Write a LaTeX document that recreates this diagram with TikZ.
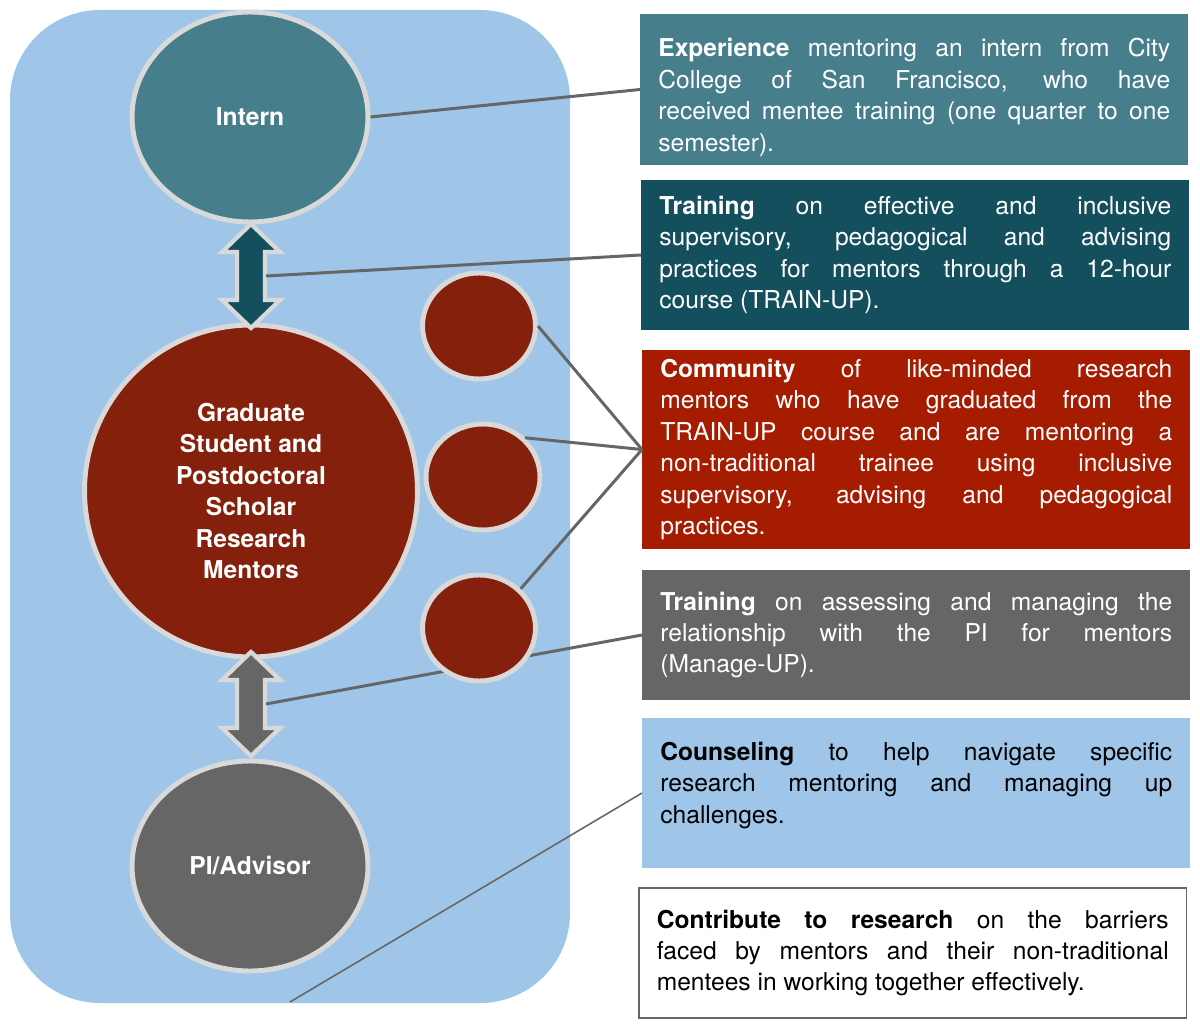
\documentclass[tikz,border=0pt]{standalone}
\usepackage{fontspec}
\setmainfont{TeX Gyre Heros}
\usetikzlibrary{shapes.geometric, calc}
\definecolor{mpSky}{HTML}{9FC5E8}
\definecolor{mpTeal}{HTML}{467F8B}
\definecolor{mpDeep}{HTML}{134F5C}
\definecolor{mpRust}{HTML}{85200C}
\definecolor{mpRed}{HTML}{A61C00}
\definecolor{mpGrey}{HTML}{666666}
\definecolor{mpRim}{HTML}{D9D9D9}
\hyphenpenalty=10000
\exhyphenpenalty=10000
\tikzset{
  bodytxt/.style  = {font=\fontsize{14}{17.9}\selectfont},
  bubble/.style   = {ellipse, draw=mpRim, line width=2.8pt, text=white,
                     align=center, inner sep=0pt,
                     font=\fontsize{14}{17.9}\selectfont\bfseries},
  infobox/.style  = {rectangle, anchor=west, text width=10.24cm,
                     inner xsep=0.36cm, inner ysep=0pt, align=justify,
                     minimum height=#1, bodytxt},
  dblarrow/.style = {draw=mpRim, line width=2.4pt, line join=miter},
  link/.style     = {mpGrey, line width=1.7pt},
  thinlink/.style = {mpGrey, line width=0.9pt},
}

\begin{document}
\begin{tikzpicture}[x=0.02cm,y=-0.02cm]
  \useasboundingbox (0,0) rectangle (1200,1030);
  % panel behind the people
  \fill[mpSky, rounded corners=1.8cm] (10,10) rectangle (570,1003);
  \coordinate (panelfoot) at (290,1002);

  % info boxes
  \node[infobox=3.02cm, fill=mpTeal, text=white] (exper) at (640,89.5)
    {\textbf{Experience} mentoring an intern from City\linebreak
     College of San Francisco, who have\linebreak
     received mentee training (one quarter to one\linebreak
     semester).\par\kern-0.32cm};
  \node[infobox=3.0cm, fill=mpDeep, text=white] (trainup) at (641,255)
    {\textbf{Training} on effective and inclusive\linebreak
     supervisory, pedagogical and advising\linebreak
     practices for mentors through a 12-hour\linebreak
     course (TRAIN-UP).};
  \node[infobox=3.98cm, fill=mpRed, text=white] (commun) at (642,449.5)
    {\textbf{Community} of like-minded research\linebreak
     mentors who have graduated from the\linebreak
     TRAIN-UP course and are mentoring a\linebreak
     non-traditional trainee using inclusive\linebreak
     supervisory, advising and pedagogical\linebreak
     practices.};
  \node[infobox=2.6cm, fill=mpGrey, text=white] (manage) at (642,635)
    {\textbf{Training} on assessing and managing the\linebreak
     relationship with the PI for mentors\linebreak
     (Manage-UP).};
  \node[infobox=3.0cm, fill=mpSky] (counsel) at (642,793)
    {\textbf{Counseling} to help navigate specific\linebreak
     research mentoring and managing up\linebreak
     challenges.\par\kern0.3cm};
  \node[infobox=2.6cm, fill=white, draw=mpGrey, line width=0.9pt] (research) at (638,953)
    {\textbf{Contribute to research} on the barriers\linebreak
     faced by mentors and their non-traditional\linebreak
     mentees in working together effectively.};

  % people
  \node[bubble, fill=mpTeal, minimum width=4.72cm, minimum height=4.2cm] (intern) at (250,117) {Intern};
  \node[bubble, fill=mpRust, minimum width=6.66cm, minimum height=6.64cm] (mentor) at (251,491)
    {Graduate\\Student and\\Postdoctoral\\Scholar\\Research\\Mentors};
  \node[bubble, fill=mpGrey, minimum width=4.72cm, minimum height=4.2cm] (advisor) at (250,866) {PI/Advisor};

  % double arrows
  \coordinate (arrA) at (251,276);
  \coordinate (arrB) at (251,704);
  \draw[dblarrow, fill=mpDeep] ($(arrA)+(0,-52)$) -- ++(29,28) -- ++(-15,0) -- ++(0,48) -- ++(15,0)
    -- ++(-29,28) -- ++(-29,-28) -- ++(15,0) -- ++(0,-48) -- ++(-15,0) -- cycle;
  \draw[dblarrow, fill=mpGrey] ($(arrB)+(0,-52)$) -- ++(29,28) -- ++(-15,0) -- ++(0,48) -- ++(15,0)
    -- ++(-29,28) -- ++(-29,-28) -- ++(15,0) -- ++(0,-48) -- ++(-15,0) -- cycle;
  \coordinate (arrAr) at ($(arrA)+(15,0)$);
  \coordinate (arrBr) at ($(arrB)+(15,0)$);

  % links
  \draw[link] (intern.east) -- (exper.west);
  \draw[link] (arrAr) -- (trainup.west);
  \draw[link] (arrBr) -- (manage.west);
  \draw[thinlink] (panelfoot) -- (counsel.west);

  % small community circles
  \node[bubble, fill=mpRust, minimum width=2.26cm, minimum height=2.12cm] (peerA) at (479,326) {};
  \node[bubble, fill=mpRust, minimum width=2.28cm, minimum height=2.12cm] (peerB) at (483,477) {};
  \node[bubble, fill=mpRust, minimum width=2.26cm, minimum height=2.12cm] (peerC) at (479,628) {};
  \draw[link] (peerA.east) -- (commun.west);
  \draw[link] (peerB.north east) -- (commun.west);
  \draw[link] (peerC.north east) -- (commun.west);
\end{tikzpicture}
\end{document}
